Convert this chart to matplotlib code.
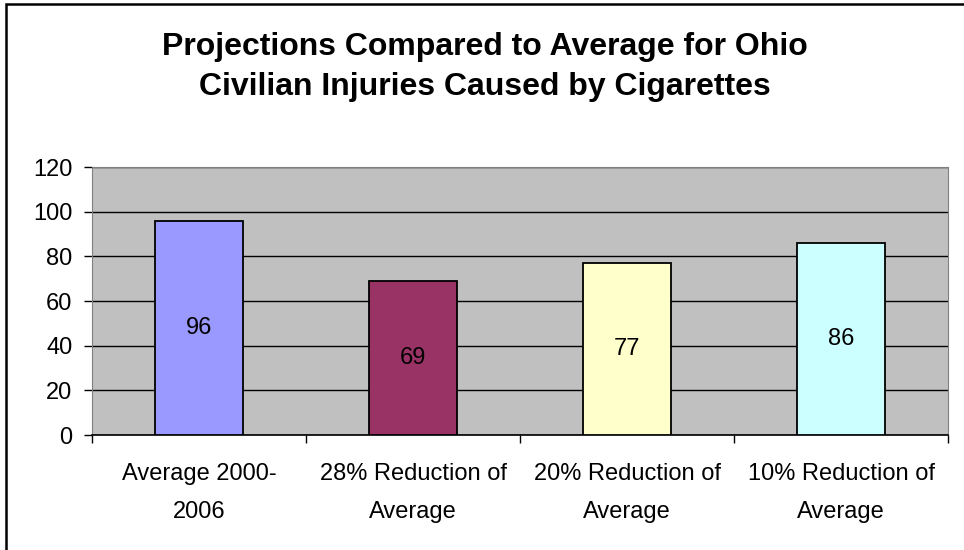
import matplotlib
matplotlib.use('Agg')
import matplotlib.pyplot as plt
from matplotlib.patches import Rectangle
import numpy as np

plt.rcParams['font.family'] = ['Liberation Sans', 'DejaVu Sans']

# chart data
categories = ['Average 2000-\n2006', '28% Reduction of\nAverage',
              '20% Reduction of\nAverage', '10% Reduction of\nAverage']
values = [96, 69, 77, 86]
bar_colors = ['#9999FF', '#993366', '#FFFFCC', '#CCFFFF']
y_ticks = [0, 20, 40, 60, 80, 100, 120]
title = 'Projections Compared to Average for Ohio\nCivilian Injuries Caused by Cigarettes'

fig = plt.figure(figsize=(9.64, 5.5), dpi=100)
ax = fig.add_axes([92/964, 115/550, (948-92)/964, (435-167)/550])
ax.set_facecolor('#C0C0C0')

x = np.arange(len(values))
ax.bar(x, values, width=0.41, color=bar_colors, edgecolor='black', linewidth=1.3, zorder=3)
for xi, v in zip(x, values):
    ax.text(xi, v / 2, str(v), ha='center', va='center', fontsize=17, zorder=4)

ax.set_xlim(-0.5, len(values) - 0.5)
ax.set_ylim(0, 120)
ax.set_yticks(y_ticks)
ax.set_yticklabels([str(t) for t in y_ticks], fontsize=17)
ax.yaxis.grid(True, color='black', linewidth=1, zorder=1)
ax.set_axisbelow(True)

# category labels between tick marks at boundaries
ax.set_xticks(x)
ax.set_xticklabels(categories, fontsize=17, linespacing=1.95)
ax.tick_params(axis='x', length=0, pad=20)
ax.set_xticks(np.arange(len(values) + 1) - 0.5, minor=True)
ax.tick_params(axis='x', which='minor', length=6, width=1, color='black', direction='out')
ax.tick_params(axis='y', length=6, width=1, direction='out', pad=8)

for s in ['top', 'right']:
    ax.spines[s].set_color('#808080')
ax.spines['left'].set_color('#808080')
ax.spines['bottom'].set_color('black')
ax.spines['bottom'].set_linewidth(1.2)

fig.text(485/964, 1 - 67/550, title, ha='center', va='center', fontsize=23,
         fontweight='bold', linespacing=1.4)

# outer chart border
fig.patches.append(Rectangle((5.5/964, -0.05), 1.1, 1 - 4/550 + 0.05,
                             transform=fig.transFigure, fill=False,
                             edgecolor='black', linewidth=1.8))

fig.savefig('out.png', dpi=100)
